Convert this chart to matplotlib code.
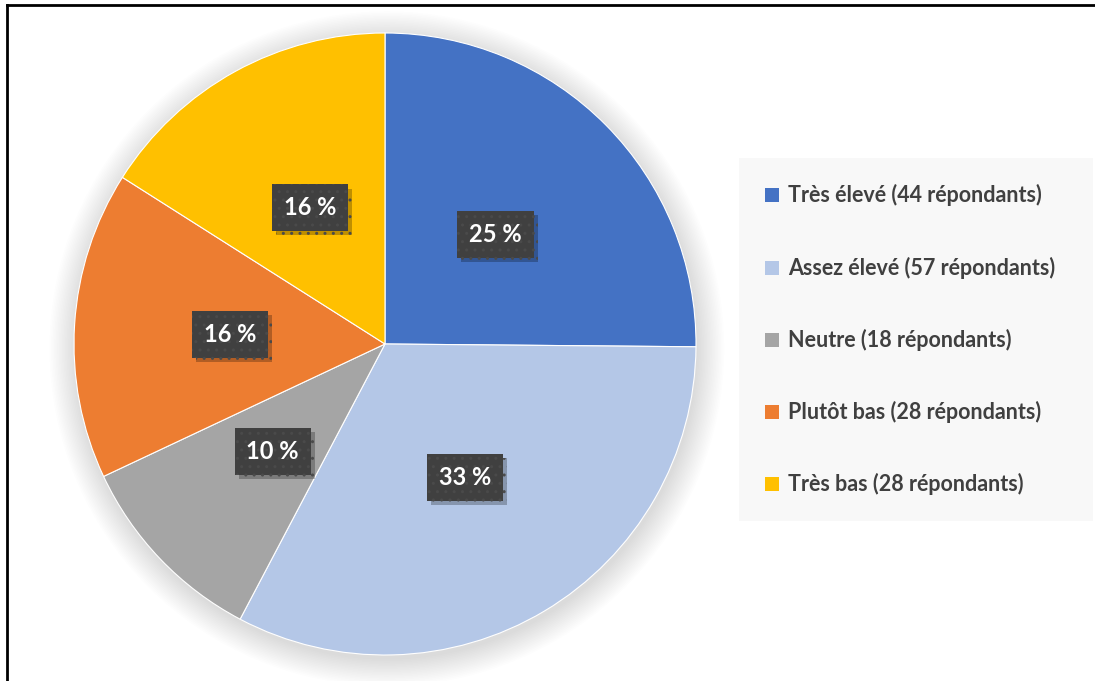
import matplotlib
matplotlib.use("Agg")
import numpy as np
import matplotlib.pyplot as plt
from matplotlib.patches import Circle, Rectangle
from matplotlib.lines import Line2D
import matplotlib.patheffects as pe

categories = ["Très élevé", "Assez élevé", "Neutre", "Plutôt bas", "Très bas"]
respondents = [44, 57, 18, 28, 28]
colors = ["#4472C4", "#B4C7E7", "#A5A5A5", "#ED7D31", "#FFC000"]

plt.rcParams["font.family"] = ["Lato", "DejaVu Sans"]

W, H = 1095, 681
fig = plt.figure(figsize=(W / 100, H / 100), dpi=100)

# pie axes: centre (385, 344) px, radius 311 px, limits +-1.2
cx, cy, r = 385, 344, 311
half = 1.2 * r
ax = fig.add_axes([(cx - half) / W, (H - cy - half) / H, 2 * half / W, 2 * half / H])
ax.axis("off")

# soft shadow behind the pie
for i in range(18):
    ax.add_patch(Circle((0.006, -0.015), 1.0 + 0.005 * i, color="black",
                        alpha=0.009, lw=0, zorder=0))

total = sum(respondents)
wedges, _ = ax.pie(respondents, colors=colors, startangle=90, counterclock=False,
                   radius=1.0, wedgeprops=dict(edgecolor="white", linewidth=0.8),
                   frame=False)
ax.set_xlim(-1.2, 1.2)
ax.set_ylim(-1.2, 1.2)
ax.set_aspect("auto")

angles = []
start = 90.0
for v in respondents:
    span = v / total * 360
    angles.append(start - span / 2)
    start -= span

for ang, v in zip(angles, respondents):
    pct = round(v / total * 100)
    x = 0.5 * np.cos(np.radians(ang))
    y = 0.5 * np.sin(np.radians(ang))
    t = ax.text(x, y, f"{pct} %", ha="center", va="center", fontsize=17,
                fontweight="bold", color="white", zorder=5,
                bbox=dict(boxstyle="square,pad=0.5", facecolor="#404040",
                          edgecolor="#4a4a4a", hatch="..", lw=0))
    t.get_bbox_patch().set_path_effects(
        [pe.SimplePatchShadow(offset=(3, -3), shadow_rgbFace="black", alpha=0.25),
         pe.Normal()])

# legend panel
fig.add_artist(Rectangle((739 / W, 1 - 521 / H), 354 / W, 363 / H,
                         transform=fig.transFigure, facecolor="#f8f8f8",
                         edgecolor="none", zorder=1))
item_y = [195, 268, 340, 412, 484]
for yy, cat, n, col in zip(item_y, categories, respondents, colors):
    fig.add_artist(Rectangle((765 / W, 1 - (yy + 7) / H), 14 / W, 14 / H,
                             transform=fig.transFigure, facecolor=col,
                             edgecolor="none", zorder=2))
    fig.text(788 / W, 1 - yy / H, f"{cat} ({n} répondants)", ha="left",
             va="center", fontsize=15.5, fontweight="bold", color="#404040",
             zorder=3)

# outer border (left and top)
fig.add_artist(Line2D([7 / W, 7 / W], [0, 1 - 5 / H], color="black", lw=2,
                      transform=fig.transFigure))
fig.add_artist(Line2D([7 / W, 1], [1 - 5 / H, 1 - 5 / H], color="black", lw=2,
                      transform=fig.transFigure))

fig.savefig("out.png", dpi=100)
